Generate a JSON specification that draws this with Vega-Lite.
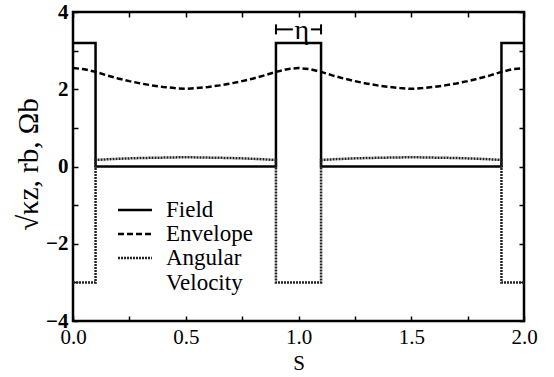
{
  "$schema": "https://vega.github.io/schema/vega-lite/v6.json",
  "autosize": "none",
  "width": 451,
  "height": 309,
  "padding": {"left": 73, "top": 12, "right": 30, "bottom": 56},
  "background": "white",
  "config": {
    "view": {"stroke": "black", "strokeWidth": 2.5},
    "font": "Liberation Serif, Times New Roman, DejaVu Serif, serif",
    "text": {"font": "Liberation Serif, Times New Roman, DejaVu Serif, serif"},
    "style": {
      "guide-label": {"font": "Liberation Serif, Times New Roman, DejaVu Serif, serif"},
      "guide-title": {"font": "Liberation Serif, Times New Roman, DejaVu Serif, serif"}
    },
    "legend": {"labelFont": "Liberation Serif, Times New Roman, DejaVu Serif, serif"},
    "axis": {
      "domain": false,
      "grid": false,
      "tickColor": "black",
      "tickWidth": 1.5,
      "labelFont": "Liberation Serif, Times New Roman, DejaVu Serif, serif",
      "labelColor": "black",
      "titleFont": "Liberation Serif, Times New Roman, DejaVu Serif, serif",
      "titleColor": "black"
    }
  },
  "datasets": {
    "curves": [
      {"i": 1, "series": "Field", "s": 0.0, "v": 3.2},
      {"i": 2, "series": "Field", "s": 0.1, "v": 3.2},
      {"i": 3, "series": "Field", "s": 0.1, "v": 0.0},
      {"i": 4, "series": "Field", "s": 0.9, "v": 0.0},
      {"i": 5, "series": "Field", "s": 0.9, "v": 3.2},
      {"i": 6, "series": "Field", "s": 1.1, "v": 3.2},
      {"i": 7, "series": "Field", "s": 1.1, "v": 0.0},
      {"i": 8, "series": "Field", "s": 1.9, "v": 0.0},
      {"i": 9, "series": "Field", "s": 1.9, "v": 3.2},
      {"i": 10, "series": "Field", "s": 2.0, "v": 3.2},

      {"i": 1, "series": "Envelope", "s": 0.0, "v": 2.55},
      {"i": 2, "series": "Envelope", "s": 0.05, "v": 2.52},
      {"i": 3, "series": "Envelope", "s": 0.1, "v": 2.45},
      {"i": 4, "series": "Envelope", "s": 0.15, "v": 2.36},
      {"i": 5, "series": "Envelope", "s": 0.2, "v": 2.28},
      {"i": 6, "series": "Envelope", "s": 0.25, "v": 2.21},
      {"i": 7, "series": "Envelope", "s": 0.3, "v": 2.15},
      {"i": 8, "series": "Envelope", "s": 0.35, "v": 2.10},
      {"i": 9, "series": "Envelope", "s": 0.4, "v": 2.06},
      {"i": 10, "series": "Envelope", "s": 0.45, "v": 2.03},
      {"i": 11, "series": "Envelope", "s": 0.5, "v": 2.01},
      {"i": 12, "series": "Envelope", "s": 0.55, "v": 2.03},
      {"i": 13, "series": "Envelope", "s": 0.6, "v": 2.06},
      {"i": 14, "series": "Envelope", "s": 0.65, "v": 2.10},
      {"i": 15, "series": "Envelope", "s": 0.7, "v": 2.15},
      {"i": 16, "series": "Envelope", "s": 0.75, "v": 2.21},
      {"i": 17, "series": "Envelope", "s": 0.8, "v": 2.28},
      {"i": 18, "series": "Envelope", "s": 0.85, "v": 2.36},
      {"i": 19, "series": "Envelope", "s": 0.9, "v": 2.45},
      {"i": 20, "series": "Envelope", "s": 0.95, "v": 2.52},
      {"i": 21, "series": "Envelope", "s": 1.0, "v": 2.55},
      {"i": 22, "series": "Envelope", "s": 1.05, "v": 2.52},
      {"i": 23, "series": "Envelope", "s": 1.1, "v": 2.45},
      {"i": 24, "series": "Envelope", "s": 1.15, "v": 2.36},
      {"i": 25, "series": "Envelope", "s": 1.2, "v": 2.28},
      {"i": 26, "series": "Envelope", "s": 1.25, "v": 2.21},
      {"i": 27, "series": "Envelope", "s": 1.3, "v": 2.15},
      {"i": 28, "series": "Envelope", "s": 1.35, "v": 2.10},
      {"i": 29, "series": "Envelope", "s": 1.4, "v": 2.06},
      {"i": 30, "series": "Envelope", "s": 1.45, "v": 2.03},
      {"i": 31, "series": "Envelope", "s": 1.5, "v": 2.01},
      {"i": 32, "series": "Envelope", "s": 1.55, "v": 2.03},
      {"i": 33, "series": "Envelope", "s": 1.6, "v": 2.06},
      {"i": 34, "series": "Envelope", "s": 1.65, "v": 2.10},
      {"i": 35, "series": "Envelope", "s": 1.7, "v": 2.15},
      {"i": 36, "series": "Envelope", "s": 1.75, "v": 2.21},
      {"i": 37, "series": "Envelope", "s": 1.8, "v": 2.28},
      {"i": 38, "series": "Envelope", "s": 1.85, "v": 2.36},
      {"i": 39, "series": "Envelope", "s": 1.9, "v": 2.45},
      {"i": 40, "series": "Envelope", "s": 1.95, "v": 2.52},
      {"i": 41, "series": "Envelope", "s": 2.0, "v": 2.55},

      {"i": 1, "series": "Angular Velocity", "s": 0.0, "v": -3.0},
      {"i": 2, "series": "Angular Velocity", "s": 0.1, "v": -3.0},
      {"i": 3, "series": "Angular Velocity", "s": 0.1, "v": 0.17},
      {"i": 4, "series": "Angular Velocity", "s": 0.2, "v": 0.20},
      {"i": 5, "series": "Angular Velocity", "s": 0.3, "v": 0.22},
      {"i": 6, "series": "Angular Velocity", "s": 0.5, "v": 0.24},
      {"i": 7, "series": "Angular Velocity", "s": 0.7, "v": 0.22},
      {"i": 8, "series": "Angular Velocity", "s": 0.8, "v": 0.20},
      {"i": 9, "series": "Angular Velocity", "s": 0.9, "v": 0.17},
      {"i": 10, "series": "Angular Velocity", "s": 0.9, "v": -3.0},
      {"i": 11, "series": "Angular Velocity", "s": 1.1, "v": -3.0},
      {"i": 12, "series": "Angular Velocity", "s": 1.1, "v": 0.17},
      {"i": 13, "series": "Angular Velocity", "s": 1.2, "v": 0.20},
      {"i": 14, "series": "Angular Velocity", "s": 1.3, "v": 0.22},
      {"i": 15, "series": "Angular Velocity", "s": 1.5, "v": 0.24},
      {"i": 16, "series": "Angular Velocity", "s": 1.7, "v": 0.22},
      {"i": 17, "series": "Angular Velocity", "s": 1.8, "v": 0.20},
      {"i": 18, "series": "Angular Velocity", "s": 1.9, "v": 0.17},
      {"i": 19, "series": "Angular Velocity", "s": 1.9, "v": -3.0},
      {"i": 20, "series": "Angular Velocity", "s": 2.0, "v": -3.0}
    ],
    "bracket": [
      {"s": 0.9, "s2": 0.975, "v": 3.55, "v2": 3.55},
      {"s": 1.055, "s2": 1.1, "v": 3.55, "v2": 3.55},
      {"s": 0.9, "s2": 0.9, "v": 3.42, "v2": 3.68},
      {"s": 1.1, "s2": 1.1, "v": 3.42, "v2": 3.68}
    ],
    "label": [
      {"s": 1.015, "v": 3.5, "text": "η"}
    ]
  },
  "layer": [
    {
      "data": {"name": "curves"},
      "mark": {"type": "line", "strokeWidth": 2.5, "clip": true},
      "encoding": {
        "x": {
          "field": "s", "type": "quantitative",
          "scale": {"domain": [0, 2], "nice": false, "zero": false},
          "axis": {
            "orient": "bottom",
            "title": "S",
            "titleFont": "Liberation Serif, Times New Roman, DejaVu Serif, serif",
            "titleFontSize": 21,
            "titleFontWeight": "normal",
            "titlePadding": 5,
            "values": [0, 0.25, 0.5, 0.75, 1, 1.25, 1.5, 1.75, 2],
            "labelExpr": "(datum.value * 2) % 1 == 0 ? format(datum.value, '.1f') : ''",
            "tickSize": -5,
            "labelPadding": 10,
            "labelFont": "Liberation Serif, Times New Roman, DejaVu Serif, serif",
            "labelFontSize": 21,
            "labelFlush": false,
            "labelOverlap": false
          }
        },
        "y": {
          "field": "v", "type": "quantitative",
          "scale": {"domain": [-4, 4], "nice": false, "zero": false},
          "axis": {
            "orient": "left",
            "title": "√κz, rb, Ωb",
            "titleFont": "Liberation Serif, Times New Roman, DejaVu Serif, serif",
            "titleFontSize": 29,
            "titleFontWeight": "normal",
            "titleX": -45,
            "titleY": 152,
            "titleAlign": "center",
            "titleBaseline": "middle",
            "titleAngle": -90,
            "values": [-4, -3, -2, -1, 0, 1, 2, 3, 4],
            "labelExpr": "datum.value % 2 == 0 ? format(datum.value, 'd') : ''",
            "tickSize": -5,
            "labelPadding": 10,
            "labelFont": "Liberation Serif, Times New Roman, DejaVu Serif, serif",
            "labelFontSize": 21,
            "labelFontWeight": "bold",
            "labelFlush": false,
            "labelOverlap": false
          }
        },
        "detail": {"field": "series"},
        "order": {"field": "i", "type": "quantitative"},
        "color": {
          "field": "series", "type": "nominal",
          "scale": {"domain": ["Field", "Envelope", "Angular Velocity"], "range": ["#000000", "#000000", "#222222"]},
          "legend": {
            "title": null,
            "orient": "none",
            "legendX": 50,
            "legendY": 186,
            "symbolType": "M-1.6,0H1.6",
            "symbolSize": 450,
            "symbolStrokeWidth": 2.5,
            "labelFontSize": 23,
            "labelColor": "black",
            "labelOffset": 19,
            "rowPadding": -2,
            "labelExpr": "datum.label == 'Angular Velocity' ? ['Angular', 'Velocity'] : datum.label"
          }
        },
        "strokeDash": {
          "field": "series", "type": "nominal",
          "scale": {"domain": ["Field", "Envelope", "Angular Velocity"], "range": [[1, 0], [6, 3], [2, 1]]},
          "legend": {
            "title": null,
            "orient": "none",
            "legendX": 50,
            "legendY": 186,
            "symbolType": "M-1.6,0H1.6",
            "symbolSize": 450,
            "symbolStrokeWidth": 2.5,
            "labelFontSize": 23,
            "labelColor": "black",
            "labelOffset": 19,
            "rowPadding": -2,
            "labelExpr": "datum.label == 'Angular Velocity' ? ['Angular', 'Velocity'] : datum.label"
          }
        }
      }
    },
    {
      "data": {"name": "bracket"},
      "mark": {"type": "rule", "color": "black", "strokeWidth": 2},
      "encoding": {
        "x": {
          "field": "s", "type": "quantitative",
          "axis": {
            "orient": "top", "title": null, "labels": false,
            "values": [0, 0.25, 0.5, 0.75, 1, 1.25, 1.5, 1.75, 2],
            "tickSize": -5
          }
        },
        "x2": {"field": "s2"},
        "y": {
          "field": "v", "type": "quantitative",
          "axis": {
            "orient": "right", "title": null, "labels": false,
            "values": [-4, -3, -2, -1, 0, 1, 2, 3, 4],
            "tickSize": -5
          }
        },
        "y2": {"field": "v2"}
      }
    },
    {
      "data": {"name": "label"},
      "mark": {"type": "text", "font": "Liberation Serif, Times New Roman, DejaVu Serif, serif", "fontSize": 28, "color": "black", "baseline": "middle", "align": "center"},
      "encoding": {
        "x": {"field": "s", "type": "quantitative", "axis": null},
        "y": {"field": "v", "type": "quantitative", "axis": null},
        "text": {"field": "text"}
      }
    }
  ],
  "resolve": {"axis": {"x": "independent", "y": "independent"}}
}
